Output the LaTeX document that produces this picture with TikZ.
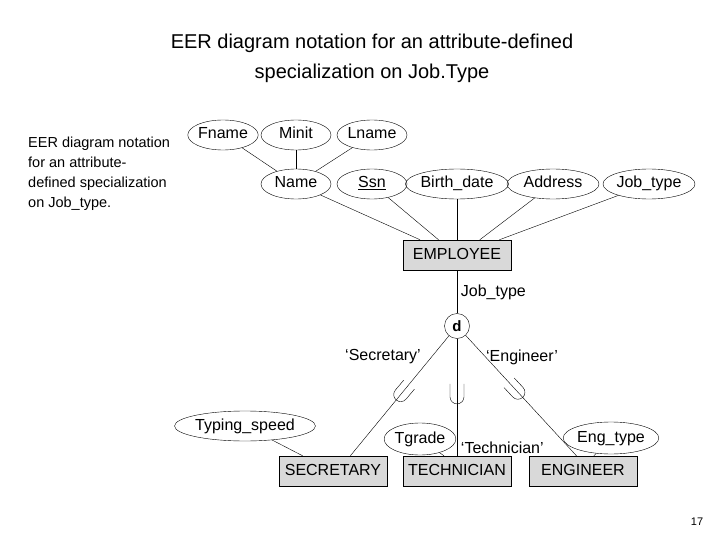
\documentclass[tikz,border=0pt]{standalone}
\usepackage{fontspec}
\setmainfont{Liberation Sans}
\usetikzlibrary{shapes,calc}

\tikzset{
  attr/.style={draw,ellipse,inner sep=0pt,text height=11pt,text depth=3pt,minimum height=30pt,font=\fontsize{16}{18}\selectfont},
  entity/.style={draw,fill=black!15,minimum width=108pt,minimum height=30pt,text height=11pt,text depth=3pt,font=\fontsize{16}{18}\selectfont},
  lbl/.style={inner sep=0.75pt,font=\fontsize{16}{18}\selectfont}
}
\newcommand{\subsetmark}[2]{%
  \begin{scope}[shift={(#1)},rotate=#2]
    \draw (-7,-20) -- (-7,-7) arc (180:0:7) -- (7,-20);
  \end{scope}}

\begin{document}
\begin{tikzpicture}[x=1pt,y=1pt,yscale=-1,xscale=1]
\useasboundingbox (0,0) rectangle (720,540);

% Title
\node[align=center,font=\fontsize{20}{30}\selectfont] (title) at (372,58) {EER diagram notation for an attribute-defined\\specialization on Job.Type};
% side note
\node[anchor=north west,align=left,inner sep=0pt,font=\fontsize{14.5}{20}\selectfont] (note) at (28,137) {EER diagram notation\\for an attribute-\\defined specialization\\on Job\_type.};

% Attributes
\node[attr,minimum width=70pt] (fname) at (223,135) {Fname};
\node[attr,minimum width=70pt] (minit) at (296,135) {Minit};
\node[attr,minimum width=70pt] (lname) at (372,135) {Lname};
\node[attr,minimum width=70pt] (name) at (296,184) {Name};
\node[attr,minimum width=70pt] (ssn) at (372,184) {\underline{Ssn}};
\node[attr,minimum width=92pt] (bdate) at (457,184) {Birth\_date};
\node[attr,minimum width=92pt] (addr) at (553,184) {Address};
\node[attr,minimum width=92pt] (jtype) at (649,184) {Job\_type};

% Entities
\node[entity] (emp) at (457,255) {EMPLOYEE};
\node[entity] (sec) at (333,471) {SECRETARY};
\node[entity] (tech) at (457,471) {TECHNICIAN};
\node[entity] (eng) at (583,471) {ENGINEER};

% Local attributes
\node[attr,minimum width=112pt] (tspeed) at (245,426) {Typing\_speed};
\node[attr,minimum width=70pt,minimum height=32pt] (tgrade) at (420,439) {Tgrade};
\node[attr,minimum width=86pt,minimum height=32pt] (etype) at (611,438) {Eng\_type};

% Disjointness circle
\node[draw,circle,minimum size=25pt,inner sep=0pt,font=\bfseries\fontsize{15}{17}\selectfont] (d) at (457,326) {d};

% Labels
\node[lbl,anchor=west] (jt) at (460,292) {Job\_type};
\node[lbl] (lsec) at (383,357) {`Secretary'};
\node[lbl] (leng) at (522,357) {`Engineer'};
\node[lbl,anchor=west] (ltech) at (460,448) {`Technician'};
\node[font=\fontsize{11}{13}\selectfont] (page) at (697,522) {17};

% Attribute connectors
\draw (fname) -- (name);
\draw (minit) -- (name);
\draw (lname) -- (name);
\draw (name) -- ($(emp.north west)!0.16!(emp.north east)$);
\draw (ssn) -- ($(emp.north west)!0.33!(emp.north east)$);
\draw (bdate) -- (emp.north);
\draw (addr) -- ($(emp.north west)!0.71!(emp.north east)$);
\draw (jtype) -- ($(emp.north west)!0.89!(emp.north east)$);
\draw (tspeed) -- ($(sec.north west)!0.22!(sec.north east)$);
\draw (tgrade) -- ($(tech.north west)!0.38!(tech.north east)$);
\draw (etype) -- ($(eng.north west)!0.6!(eng.north east)$);

% Specialization
\coordinate (secTop) at ($(sec.north west)!0.66!(sec.north east)$);
\coordinate (engTop) at ($(eng.north west)!0.44!(eng.north east)$);
\draw (emp) -- (d);
\draw (d) -- (secTop);
\draw (d) -- (tech);
\draw (d) -- (engTop);
\subsetmark{$(d)!0.57!(secTop)$}{40}
\subsetmark{$(d)!0.6!(tech.north)$}{0}
\subsetmark{$(d)!0.55!(engTop)$}{-43}

\end{tikzpicture}
\end{document}
